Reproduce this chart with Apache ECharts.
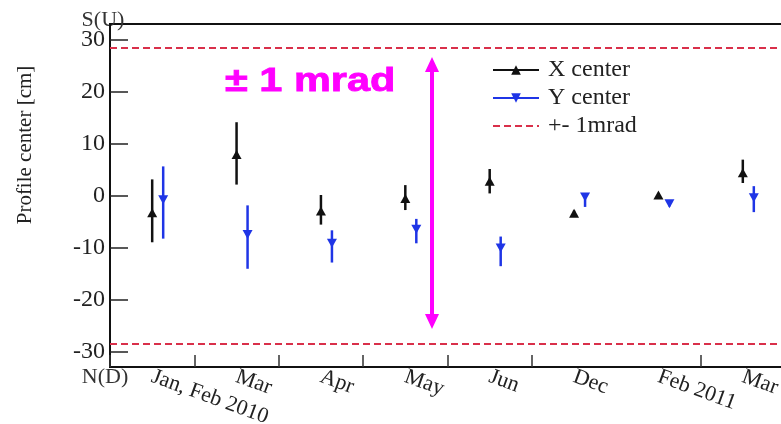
<!DOCTYPE html>
<html><head><meta charset="utf-8">
<script src="https://cdn.jsdelivr.net/npm/echarts@6/dist/echarts.min.js"></script>
<style>html,body{margin:0;padding:0;background:#fff}#c{width:781px;height:424px}</style>
</head><body><div id="c"></div>
<script>
// ---- data ----
const categories = ['Jan, Feb 2010', 'Mar', 'Apr', 'May', 'Jun', 'Dec', 'Feb 2011', 'Mar'];
const xCenter = [-3.3, 7.9, -3.0, -0.6, 2.75, -3.4, 0.1, 4.4];
const xLow    = [-9.0, 2.1, -5.6, -2.8, 0.4, -3.9, -0.4, 2.4];
const xHigh   = [3.1, 14.1, 0.1, 2.0, 5.1, -2.9, 0.5, 6.9];
const yCenter = [-0.8, -7.5, -9.2, -6.5, -10.1, -0.3, -1.6, -0.45];
const yLow    = [-8.3, -14.1, -12.9, -9.2, -13.6, -2.2, -2.1, -3.2];
const yHigh   = [5.6, -1.9, -6.7, -4.5, -7.9, 0.4, -1.1, 1.8];
const mradLimits = [28.5, -28.5];
const yRange = [-33, 33];
const seriesNames = ['X center', 'Y center', '+- 1mrad'];

const SERIF = "'Liberation Serif','Times New Roman',serif";
const BLACK = '#111111', BLUE = '#1f35e6', RED = '#d9304a', MAG = '#ff00ff';

function errSeries(lo, hi, color, offset) {
  return {
    type: 'custom', silent: true, z: 2,
    data: lo.map((l, i) => [i, l, hi[i]]),
    encode: { x: 0, y: [1, 2] },
    renderItem(params, api) {
      const a = api.coord([api.value(0), api.value(2)]);
      const b = api.coord([api.value(0), api.value(1)]);
      return { type: 'line', shape: { x1: a[0] + offset, y1: a[1], x2: b[0] + offset, y2: b[1] },
               style: { stroke: color, lineWidth: 2.5 } };
    }
  };
}

const chart = echarts.init(document.getElementById('c'), null, { renderer: 'canvas' });
chart.setOption({
  animation: false,
  backgroundColor: '#fff',
  grid: { left: 110, right: -4, top: 24, bottom: 57, containLabel: false, outerBoundsMode: 'none',
          show: true, borderColor: BLACK, borderWidth: 2, backgroundColor: 'transparent' },
  xAxis: {
    type: 'category', data: categories, boundaryGap: true,
    axisLine: { show: true, onZero: false, lineStyle: { color: BLACK, width: 2 } },
    axisTick: { show: true, inside: true, length: 12, lineStyle: { color: '#333', width: 1.5 },
                interval: (i) => i !== 6 },
    axisLabel: { interval: 0, rotate: -20, margin: 9, fontFamily: SERIF, fontSize: 22, color: '#222' },
    splitLine: { show: false }
  },
  yAxis: {
    type: 'value', min: yRange[0], max: yRange[1], splitNumber: 6,
    axisLine: { show: true, onZero: false, lineStyle: { color: BLACK, width: 2 } },
    axisTick: { show: true, inside: true, length: 18, lineStyle: { color: '#222', width: 1.5 } },
    axisLabel: { fontFamily: SERIF, fontSize: 24, color: '#222', margin: 5, showMinLabel: false, showMaxLabel: false },
    splitLine: { show: false }
  },
  legend: {
    orient: 'vertical', left: 492, top: 58, padding: 0, itemWidth: 46, itemHeight: 12, itemGap: 4,
    selectedMode: false,
    textStyle: { fontFamily: SERIF, fontSize: 24, color: '#222', padding: [0, 0, 0, 4] },
    lineStyle: { width: 2 },
    data: [{ name: seriesNames[0] }, { name: seriesNames[1] }, { name: seriesNames[2], itemStyle: { opacity: 0 } }]
  },
  series: [
    errSeries(xLow, xHigh, BLACK, 0),
    errSeries(yLow, yHigh, BLUE, 11),
    { type: 'line', name: seriesNames[0], data: xCenter, symbol: 'triangle', symbolSize: [10, 9],
      showSymbol: true, lineStyle: { width: 0, color: BLACK }, itemStyle: { color: BLACK }, z: 3 },
    { type: 'line', name: seriesNames[1], data: yCenter, symbol: 'triangle', symbolRotate: 180,
      symbolSize: [10, 9], symbolOffset: [11, 0],
      showSymbol: true, lineStyle: { width: 0, color: BLUE }, itemStyle: { color: BLUE }, z: 3 },
    { type: 'line', name: seriesNames[2], data: [], symbol: 'none',
      lineStyle: { color: RED, width: 2, type: [7, 4] }, itemStyle: { color: RED },
      markLine: { silent: true, symbol: ['none', 'none'], label: { show: false },
        lineStyle: { color: RED, width: 2, type: [7, 4] },
        emphasis: { disabled: true },
        data: mradLimits.map(v => ({ yAxis: v })) } }
  ],
  graphic: [
    { type: 'text', x: 103, y: 20, style: { text: 'S(U)', font: '22px ' + SERIF, fill: '#333', align: 'center', verticalAlign: 'middle' } },
    { type: 'text', x: 105, y: 377, style: { text: 'N(D)', font: '22px ' + SERIF, fill: '#333', align: 'center', verticalAlign: 'middle' } },
    { type: 'text', x: 25, y: 145, rotation: Math.PI / 2,
      style: { text: 'Profile center [cm]', font: '21px ' + SERIF, fill: '#222', align: 'center', verticalAlign: 'middle' } },
    { type: 'text', x: 225, y: 82, scaleX: 1.22,
      style: { text: '± 1 mrad', fontSize: 34, fontWeight: 'bold', fontFamily: "'Liberation Sans', Arial, sans-serif",
               fill: MAG, stroke: MAG, lineWidth: 0.8, align: 'left', verticalAlign: 'middle' } },
    { type: 'line', shape: { x1: 432, y1: 68, x2: 432, y2: 318 }, style: { stroke: MAG, lineWidth: 4 } },
    { type: 'polygon', shape: { points: [[432, 57], [425, 72], [439, 72]] }, style: { fill: MAG } },
    { type: 'polygon', shape: { points: [[432, 329], [425, 314], [439, 314]] }, style: { fill: MAG } }
  ]
});
</script>
</body></html>
